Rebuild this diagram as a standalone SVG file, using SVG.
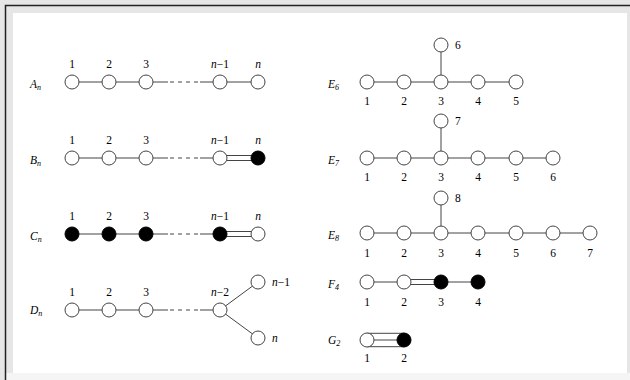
<svg xmlns="http://www.w3.org/2000/svg" width="630" height="380" viewBox="0 0 630 380">
<style>
.e{stroke:#444;stroke-width:1;fill:none}
.d{stroke:#444;stroke-width:1;fill:none;stroke-dasharray:4 4}
.o{fill:#fff;stroke:#444;stroke-width:1}
.f{fill:#000;stroke:#000;stroke-width:1}
text{font-family:"Liberation Serif","DejaVu Serif",serif;font-size:11.5px;fill:#000}
.c{text-anchor:middle}
.i{font-style:italic}
.s{font-size:8px}
</style>
<rect x="0" y="0" width="630" height="380" fill="#e6e6e6"/>
<rect x="13" y="13" width="614" height="360" fill="#fff"/>
<rect x="6" y="373" width="624" height="7" fill="#f5f5f5"/>
<path d="M5.5 380V5.5H630" fill="none" stroke="#222" stroke-width="1.5"/>

<g id="connectors">
<path class="e" d="M72 82H146M153 82H168M200 82H258"/><path class="d" d="M170 82H198"/>
<path class="e" d="M72 158H146M153 158H168M200 158H220M220 155.5H258M220 160.5H258"/><path class="d" d="M170 158H198"/>
<path class="e" d="M72 234H146M153 234H168M200 234H220M220 231.5H258M220 236.5H258"/><path class="d" d="M170 234H198"/>
<path class="e" d="M72 310H146M153 310H168M200 310H220M220 310L258 282M220 310L258 338"/><path class="d" d="M170 310H198"/>
<path class="e" d="M367 82H516M441 82V45"/>
<path class="e" d="M367 158H553M441 158V121"/>
<path class="e" d="M367 233H590M441 233V198"/>
<path class="e" d="M367 282H404M404 279.5H441M404 284.5H441M441 282H478"/>
<path class="e" d="M367 333.3H404M367 340H404M367 346.7H404"/>
</g>

<g id="An">
<text x="30" y="88" class="i">A<tspan class="s" dy="2">n</tspan></text>
<circle class="o" cx="72" cy="82" r="7"/><circle class="o" cx="109" cy="82" r="7"/><circle class="o" cx="146" cy="82" r="7"/><circle class="o" cx="220" cy="82" r="7"/><circle class="o" cx="258" cy="82" r="7"/>
<text x="72" y="68" class="c">1</text><text x="109" y="68" class="c">2</text><text x="146" y="68" class="c">3</text><text x="220" y="68" class="c"><tspan class="i">n</tspan>−1</text><text x="258" y="68" class="c i">n</text>
</g>
<g id="Bn">
<text x="30" y="164" class="i">B<tspan class="s" dy="2">n</tspan></text>
<circle class="o" cx="72" cy="158" r="7"/><circle class="o" cx="109" cy="158" r="7"/><circle class="o" cx="146" cy="158" r="7"/><circle class="o" cx="220" cy="158" r="7"/><circle class="f" cx="258" cy="158" r="7"/>
<text x="72" y="144" class="c">1</text><text x="109" y="144" class="c">2</text><text x="146" y="144" class="c">3</text><text x="220" y="144" class="c"><tspan class="i">n</tspan>−1</text><text x="258" y="144" class="c i">n</text>
</g>
<g id="Cn">
<text x="30" y="240" class="i">C<tspan class="s" dy="2">n</tspan></text>
<circle class="f" cx="72" cy="234" r="7"/><circle class="f" cx="109" cy="234" r="7"/><circle class="f" cx="146" cy="234" r="7"/><circle class="f" cx="220" cy="234" r="7"/><circle class="o" cx="258" cy="234" r="7"/>
<text x="72" y="220" class="c">1</text><text x="109" y="220" class="c">2</text><text x="146" y="220" class="c">3</text><text x="220" y="220" class="c"><tspan class="i">n</tspan>−1</text><text x="258" y="220" class="c i">n</text>
</g>
<g id="Dn">
<text x="30" y="314" class="i">D<tspan class="s" dy="2">n</tspan></text>
<circle class="o" cx="72" cy="310" r="7"/><circle class="o" cx="109" cy="310" r="7"/><circle class="o" cx="146" cy="310" r="7"/><circle class="o" cx="220" cy="310" r="7"/><circle class="o" cx="258" cy="282" r="7"/><circle class="o" cx="258" cy="338" r="7"/>
<text x="72" y="296" class="c">1</text><text x="109" y="296" class="c">2</text><text x="146" y="296" class="c">3</text><text x="220" y="296" class="c"><tspan class="i">n</tspan>−2</text>
<text x="272" y="286"><tspan class="i">n</tspan>−1</text><text x="272" y="342" class="i">n</text>
</g>

<g id="E6">
<text x="328" y="88" class="i">E<tspan class="s" dy="2">6</tspan></text>
<circle class="o" cx="367" cy="82" r="7"/><circle class="o" cx="404" cy="82" r="7"/><circle class="o" cx="441" cy="82" r="7"/><circle class="o" cx="478" cy="82" r="7"/><circle class="o" cx="516" cy="82" r="7"/><circle class="o" cx="441" cy="45" r="7"/>
<text x="367" y="105" class="c">1</text><text x="404" y="105" class="c">2</text><text x="441" y="105" class="c">3</text><text x="478" y="105" class="c">4</text><text x="516" y="105" class="c">5</text><text x="455" y="49">6</text>
</g>
<g id="E7">
<text x="328" y="164" class="i">E<tspan class="s" dy="2">7</tspan></text>
<circle class="o" cx="367" cy="158" r="7"/><circle class="o" cx="404" cy="158" r="7"/><circle class="o" cx="441" cy="158" r="7"/><circle class="o" cx="478" cy="158" r="7"/><circle class="o" cx="516" cy="158" r="7"/><circle class="o" cx="553" cy="158" r="7"/><circle class="o" cx="441" cy="121" r="7"/>
<text x="367" y="181" class="c">1</text><text x="404" y="181" class="c">2</text><text x="441" y="181" class="c">3</text><text x="478" y="181" class="c">4</text><text x="516" y="181" class="c">5</text><text x="553" y="181" class="c">6</text><text x="455" y="125">7</text>
</g>
<g id="E8">
<text x="328" y="239" class="i">E<tspan class="s" dy="2">8</tspan></text>
<circle class="o" cx="367" cy="233" r="7"/><circle class="o" cx="404" cy="233" r="7"/><circle class="o" cx="441" cy="233" r="7"/><circle class="o" cx="478" cy="233" r="7"/><circle class="o" cx="516" cy="233" r="7"/><circle class="o" cx="553" cy="233" r="7"/><circle class="o" cx="590" cy="233" r="7"/><circle class="o" cx="441" cy="198" r="7"/>
<text x="367" y="257" class="c">1</text><text x="404" y="257" class="c">2</text><text x="441" y="257" class="c">3</text><text x="478" y="257" class="c">4</text><text x="516" y="257" class="c">5</text><text x="553" y="257" class="c">6</text><text x="590" y="257" class="c">7</text><text x="455" y="202">8</text>
</g>
<g id="F4">
<text x="328" y="288" class="i">F<tspan class="s" dy="2">4</tspan></text>
<circle class="o" cx="367" cy="282" r="7"/><circle class="o" cx="404" cy="282" r="7"/><circle class="f" cx="441" cy="282" r="7"/><circle class="f" cx="478" cy="282" r="7"/>
<text x="367" y="306" class="c">1</text><text x="404" y="306" class="c">2</text><text x="441" y="306" class="c">3</text><text x="478" y="306" class="c">4</text>
</g>
<g id="G2">
<text x="328" y="344" class="i">G<tspan class="s" dy="2">2</tspan></text>
<circle class="o" cx="367" cy="340" r="7"/><circle class="f" cx="404" cy="340" r="7"/>
<text x="367" y="362" class="c">1</text><text x="404" y="362" class="c">2</text>
</g>
</svg>
